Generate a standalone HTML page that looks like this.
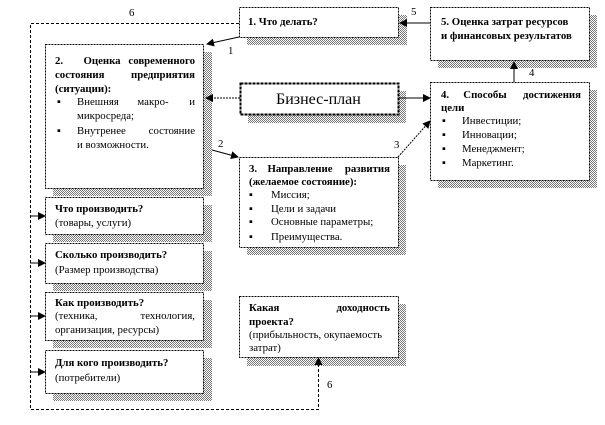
<!DOCTYPE html>
<html><head><meta charset="utf-8"><style>
html,body{margin:0;padding:0;background:#fff;width:605px;height:425px;overflow:hidden}
svg text{font-family:"Liberation Serif",serif;font-size:10.8px;fill:#000}
.b{font-weight:bold}
.e{text-anchor:end}
.m{text-anchor:middle}
</style></head><body>
<svg width="605" height="425" viewBox="0 0 605 425" xmlns="http://www.w3.org/2000/svg">
<defs>
<pattern id="h" width="2" height="2" patternUnits="userSpaceOnUse">
<rect width="2" height="2" fill="#fff"/><rect width="1" height="1" fill="#777"/><rect x="1" y="1" width="1" height="1" fill="#777"/>
</pattern>
<marker id="a" markerWidth="8" markerHeight="8" refX="7" refY="4" orient="auto" markerUnits="userSpaceOnUse">
<path d="M0,0 L8,4 L0,8 z" fill="#000"/></marker>
</defs>
<g fill="url(#h)">
<rect x="247" y="15" width="160" height="30"/>
<rect x="438" y="15" width="159" height="53"/>
<rect x="53" y="52" width="159" height="144"/>
<rect x="248" y="91" width="158" height="32"/>
<rect x="438" y="90" width="159" height="98"/>
<rect x="247" y="165" width="159" height="90"/>
<rect x="53" y="205" width="159" height="37"/>
<rect x="53" y="251" width="159" height="40"/>
<rect x="53" y="300" width="159" height="48"/>
<rect x="53" y="358" width="159" height="43"/>
<rect x="247" y="304" width="159" height="62"/>
</g>
<g fill="#fff" stroke="#000" stroke-width="1" stroke-dasharray="2,1">
<rect x="239.5" y="7.5" width="159" height="30"/>
<rect x="430.5" y="7.5" width="159" height="53"/>
<rect x="45.5" y="44.5" width="158" height="144"/>
<rect x="430.5" y="82.5" width="159" height="98"/>
<rect x="239.5" y="157.5" width="159" height="90"/>
<rect x="45.5" y="197.5" width="158" height="37"/>
<rect x="45.5" y="243.5" width="158" height="40"/>
<rect x="45.5" y="292.5" width="158" height="48"/>
<rect x="45.5" y="350.5" width="158" height="43"/>
<rect x="239.5" y="296.5" width="159" height="61"/>
</g>
<rect x="240.5" y="83.5" width="158" height="31" fill="#fff" stroke="#000" stroke-width="2" stroke-dasharray="3,1"/>
<g fill="none" stroke="#000" stroke-width="1" stroke-dasharray="3,2">
<path d="M239,23.5 H30.5 V409.5 H318.5 V360"/>
</g>
<g stroke="#000" stroke-width="1" marker-end="url(#a)" fill="none">
<line x1="30" y1="216" x2="45" y2="216"/>
<line x1="30" y1="263" x2="45" y2="263"/>
<line x1="30" y1="316" x2="45" y2="316"/>
<line x1="30" y1="372" x2="45" y2="372"/>
<line x1="318.5" y1="362" x2="318.5" y2="358"/>
<line x1="239" y1="37" x2="207" y2="44"/>
<line x1="240" y1="98" x2="206" y2="98" stroke-dasharray="2,1"/>
<line x1="212" y1="150" x2="238" y2="157"/>
<line x1="398" y1="157" x2="430" y2="121" stroke-dasharray="2,1"/>
<line x1="399" y1="98" x2="430" y2="98"/>
<line x1="514" y1="82" x2="514" y2="62"/>
<line x1="430" y1="23" x2="400" y2="23"/>
</g>
<text x="129" y="16">6</text>
<text x="228" y="54">1</text>
<text x="218" y="147">2</text>
<text x="394" y="148">3</text>
<text x="529" y="76">4</text>
<text x="411" y="15">5</text>
<text x="327" y="388">6</text>
<text class="b" x="248" y="25">1. Что делать?</text>
<text class="b" x="441" y="25">5.  Оценка затрат ресурсов</text>
<text class="b" x="441" y="39">и финансовых результатов</text>

<text class="b" x="55" y="64">2.</text><text class="b m" x="102" y="64">Оценка</text><text class="b e" x="195" y="64">современного</text>
<text class="b" x="55" y="78">состояния</text><text class="b e" x="195" y="78">предприятия</text>
<text class="b" x="55" y="92">(ситуации):</text>
<text x="57" y="105">▪</text><text x="77" y="105">Внешняя</text><text class="m" x="153" y="105">макро-</text><text class="e" x="195" y="105">и</text>
<text x="77" y="119">микросреда;</text>
<text x="57" y="134">▪</text><text x="77" y="134">Внутренее</text><text class="e" x="195" y="134">состояние</text>
<text x="77" y="148">и возможности.</text>

<text x="276" y="104" style="font-size:16px">Бизнес-план</text>

<text class="b" x="441" y="98">4.</text><text class="b m" x="485" y="98">Способы</text><text class="b e" x="581" y="98">достижения</text>
<text class="b" x="441" y="111">цели</text>
<text x="442" y="124">▪</text><text x="462" y="124">Инвестиции;</text>
<text x="442" y="138">▪</text><text x="462" y="138">Инновации;</text>
<text x="442" y="152">▪</text><text x="462" y="152">Менеджмент;</text>
<text x="442" y="166">▪</text><text x="462" y="166">Маркетинг.</text>

<text class="b" x="249" y="172">3.</text><text class="b m" x="300" y="172">Направление</text><text class="b e" x="390" y="172">развития</text>
<text class="b" x="249" y="185">(желаемое состояние):</text>
<text x="249" y="198">▪</text><text x="271" y="198">Миссия;</text>
<text x="249" y="212">▪</text><text x="271" y="212">Цели и задачи</text>
<text x="249" y="225">▪</text><text x="271" y="225">Основные параметры;</text>
<text x="249" y="240">▪</text><text x="271" y="240">Преимущества.</text>

<text class="b" x="55" y="212">Что производить?</text>
<text x="55" y="226">(товары, услуги)</text>
<text class="b" x="55" y="258">Сколько производить?</text>
<text x="55" y="273">(Размер производства)</text>
<text class="b" x="55" y="306">Как производить?</text>
<text x="55" y="319">(техника,</text><text class="e" x="195" y="319">технология,</text>
<text x="55" y="333">организация, ресурсы)</text>
<text class="b" x="55" y="366">Для кого производить?</text>
<text x="55" y="381">(потребители)</text>

<text class="b" x="249" y="311">Какая</text><text class="b e" x="390" y="311">доходность</text>
<text class="b" x="249" y="325">проекта?</text>
<text x="249" y="338">(прибыльность, окупаемость</text>
<text x="249" y="351">затрат)</text>
</svg>
</body></html>
